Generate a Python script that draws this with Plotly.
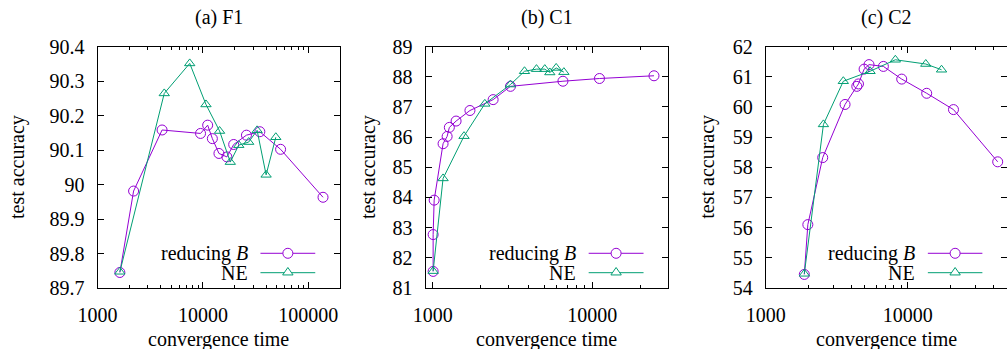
import math
import plotly.graph_objects as go

# ---------------- data ----------------
f1_rb_x = [1630, 2200, 4100, 9500, 11100, 12300, 14200, 16900, 19600, 25900, 34700, 54600, 138000]
f1_rb_y = [89.745, 89.981, 90.158, 90.148, 90.172, 90.133, 90.090, 90.080, 90.116, 90.143, 90.153, 90.102, 89.963]
f1_ne_x = [1630, 4300, 7500, 10700, 14400, 18200, 21900, 27200, 32700, 39800, 49200]
f1_ne_y = [89.747, 90.264, 90.351, 90.232, 90.155, 90.065, 90.114, 90.123, 90.157, 90.028, 90.137]

c1_rb_x = [1005, 1005, 1020, 1160, 1230, 1270, 1400, 1710, 2390, 3070, 6550, 11100, 24400]
c1_rb_y = [81.55, 82.77, 83.91, 85.78, 86.02, 86.32, 86.53, 86.88, 87.24, 87.68, 87.85, 87.94, 88.03]
c1_ne_x = [1005, 1160, 1570, 2120, 3070, 3760, 4470, 5040, 5420, 5940, 6640]
c1_ne_y = [81.56, 84.63, 86.03, 87.10, 87.74, 88.18, 88.25, 88.25, 88.14, 88.29, 88.15]

c2_rb_x = [1870, 1980, 2520, 3620, 4380, 4500, 4930, 5340, 6740, 9070, 13600, 21000, 43000]
c2_rb_y = [54.45, 56.10, 58.32, 60.08, 60.68, 60.76, 61.25, 61.40, 61.34, 60.92, 60.45, 59.91, 58.18]
c2_ne_x = [1870, 2550, 3520, 5430, 8180, 13400, 17300]
c2_ne_y = [54.47, 59.42, 60.85, 61.18, 61.56, 61.42, 61.23]

panel_titles = ["(a) F1", "(b) C1", "(c) C2"]
series_names = ["reducing <i>B</i>", "NE"]
x_title = "convergence time"
y_title = "test accuracy"

x_tickvals = [1000, 10000, 100000]
x_ticktext = ["1000", "10000", "100000"]
f1_yticks = [89.7, 89.8, 89.9, 90.0, 90.1, 90.2, 90.3, 90.4]
f1_ytext = ["89.7", "89.8", "89.9", "90", "90.1", "90.2", "90.3", "90.4"]
c1_yticks = [81, 82, 83, 84, 85, 86, 87, 88, 89]
c2_yticks = [54, 55, 56, 57, 58, 59, 60, 61, 62]

x_ranges = [[1000, 200000], [900, 30000], [1000, 50000]]

# ---------------- style ----------------
PURPLE = "#9400D3"
GREEN = "#009E73"
FONT = "Liberation Serif, Times New Roman, Times, serif"
W, H = 1007, 349

boxes_px = [(97.5, 340.0), (425.5, 668.3), (765.7, 1007.0)]
top_px, bot_px = 46.5, 288.0
ydom = [(H - bot_px) / H, (H - top_px) / H]

minor_vals = [m * 10 ** e for e in range(2, 6) for m in range(2, 10)]

fig = go.Figure()

panels = [
    (f1_rb_x, f1_rb_y, f1_ne_x, f1_ne_y, f1_yticks, f1_ytext, [89.7, 90.4]),
    (c1_rb_x, c1_rb_y, c1_ne_x, c1_ne_y, c1_yticks, [str(v) for v in c1_yticks], [81, 89]),
    (c2_rb_x, c2_rb_y, c2_ne_x, c2_ne_y, c2_yticks, [str(v) for v in c2_yticks], [54, 62]),
]

ytitle_px = [17, 368, 706.7]

shapes = []
annotations = []
for i, (rbx, rby, nex, ney, yt, ytt, yr) in enumerate(panels):
    suf = "" if i == 0 else str(i + 1)
    xa, ya = "x" + suf, "y" + suf
    fig.add_trace(go.Scatter(
        x=rbx, y=rby, mode="lines+markers", name=series_names[0], xaxis=xa, yaxis=ya,
        line=dict(color=PURPLE, width=1),
        marker=dict(symbol="circle-open", size=10, color=PURPLE, line=dict(width=1, color=PURPLE)),
        showlegend=False))
    fig.add_trace(go.Scatter(
        x=nex, y=ney, mode="lines+markers", name=series_names[1], xaxis=xa, yaxis=ya,
        line=dict(color=GREEN, width=1),
        marker=dict(symbol="triangle-up-open", size=9, color=GREEN, line=dict(width=1, color=GREEN)),
        showlegend=False))

    x0p, x1p = boxes_px[i]
    axis_common = dict(showline=True, linecolor="black", linewidth=1, mirror="allticks",
                       ticks="inside", tickcolor="black", tickwidth=1, showgrid=False,
                       zeroline=False, automargin=False,
                       tickfont=dict(family=FONT, size=20, color="black"))
    fig.layout["xaxis" + suf] = dict(
        type="log", domain=[x0p / W, x1p / W], anchor=ya,
        range=[math.log10(x_ranges[i][0]), math.log10(x_ranges[i][1])],
        tickvals=x_tickvals, ticktext=x_ticktext, ticklen=6, ticklabelstandoff=9,
        minor=dict(ticks="inside", ticklen=3, tickvals=minor_vals, tickcolor="black", tickwidth=1),
        **axis_common)
    fig.layout["yaxis" + suf] = dict(
        domain=ydom, anchor=xa, range=yr, tickvals=yt, ticktext=ytt, ticklen=6,
        ticklabelstandoff=8, **axis_common)

    annotations.append(dict(text=panel_titles[i], xref=xa + " domain", x=0.5, yref="paper",
                            y=(H - 17) / H, xanchor="center", yanchor="middle", showarrow=False,
                            font=dict(family=FONT, size=20, color="black")))
    annotations.append(dict(text=x_title, xref=xa + " domain", x=0.5, yref="paper",
                            y=(H - 339.5) / H, xanchor="center", yanchor="middle", showarrow=False,
                            font=dict(family=FONT, size=20, color="black")))
    annotations.append(dict(text=y_title, xref="paper", x=ytitle_px[i] / W, yref="paper",
                            y=(H - 167) / H, xanchor="center", yanchor="middle", showarrow=False,
                            textangle=-90, font=dict(family=FONT, size=20, color="black")))

    rows = [(0.1437, PURPLE, "circle"), (0.0634, GREEN, "triangle")]
    for j, (ry, col, kind) in enumerate(rows):
        annotations.append(dict(text=series_names[j], xref=xa + " domain", x=0.627,
                                yref=ya + " domain", y=ry, xanchor="right", yanchor="middle",
                                showarrow=False, font=dict(family=FONT, size=20, color="black")))
        shapes.append(dict(type="line", xref=xa + " domain", yref=ya + " domain",
                           x0=0.672, x1=0.898, y0=ry, y1=ry, line=dict(color=col, width=1)))
        if kind == "circle":
            shapes.append(dict(type="circle", xref=xa + " domain", yref=ya + " domain",
                               xsizemode="pixel", ysizemode="pixel", xanchor=0.785, yanchor=ry,
                               x0=-5, x1=5, y0=-5, y1=5, line=dict(color=col, width=1),
                               fillcolor="white"))
        else:
            shapes.append(dict(type="path", xref=xa + " domain", yref=ya + " domain",
                               xsizemode="pixel", ysizemode="pixel", xanchor=0.785, yanchor=ry,
                               path="M -5.2,-2.25 L 5.2,-2.25 L 0,5.2 Z",
                               line=dict(color=col, width=1), fillcolor="white"))

fig.update_layout(width=W, height=H, margin=dict(l=0, r=0, t=0, b=0, pad=0, autoexpand=False),
                  paper_bgcolor="white", plot_bgcolor="white",
                  font=dict(family=FONT, size=20, color="black"),
                  shapes=shapes, annotations=annotations, showlegend=False)

fig.write_html("out.html", config={"displayModeBar": False},
               post_script="document.body.style.margin='0';")
